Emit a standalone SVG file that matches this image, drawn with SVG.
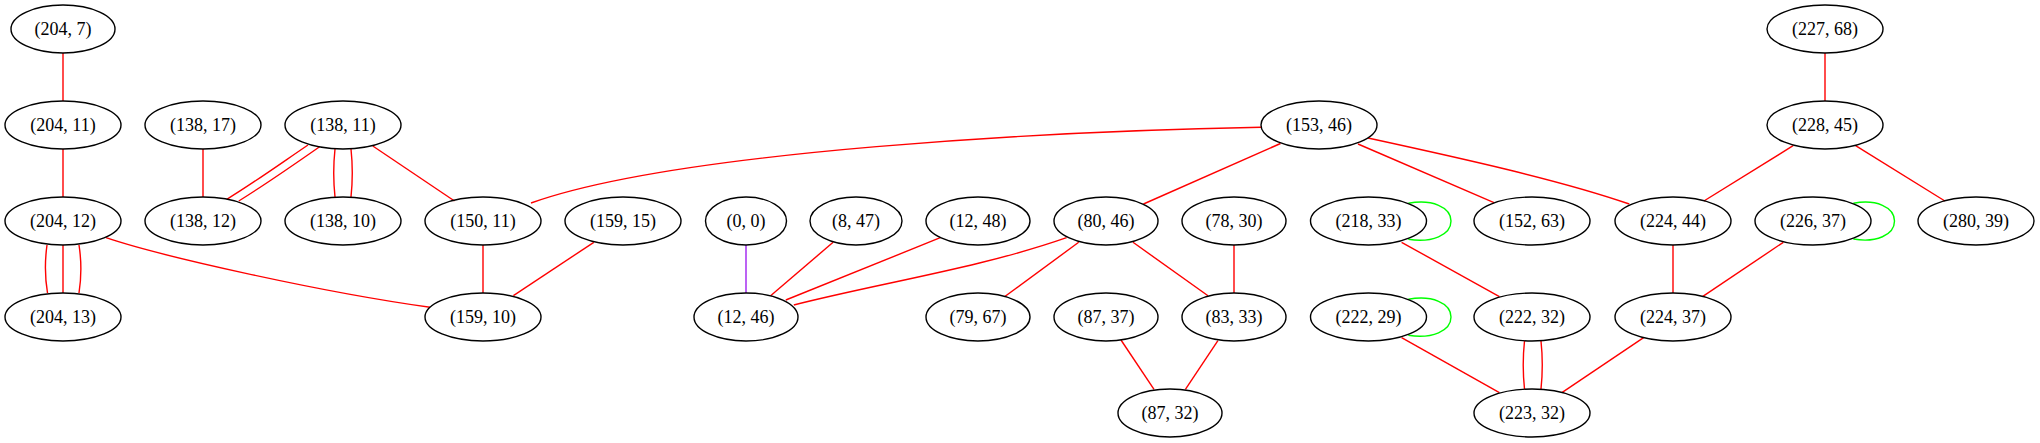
<svg xmlns="http://www.w3.org/2000/svg" width="2040" height="443" viewBox="0 0 2040 443">
<style>
.n ellipse{fill:none;stroke:#000;stroke-width:1.4}
.n text{font-size:18px;text-anchor:middle;fill:#000}
#edges path{fill:none;stroke-width:1.4}
.r{stroke:#ff0000}
.g{stroke:#00ff00}
.p{stroke:#a020f0}
</style>
<rect width="2040" height="443" fill="#fff"/>
<g id="edges">
<path class="r" d="M63,53 L63,101"/>
<path class="r" d="M63,149 L63,197"/>
<path class="r" d="M47,245 C44.8,261 44.8,277 47.5,293"/>
<path class="r" d="M63,245 L63,293"/>
<path class="r" d="M79,245 C81.5,261 81.5,277 79,293"/>
<path class="r" d="M106,237.7 C160,256 320,292 430,307.3"/>
<path class="r" d="M203,149 L203,197"/>
<path class="r" d="M308,145 C280,164 255,182 226.8,199.3"/>
<path class="r" d="M319.6,146.7 C292,166 266,184 238.8,201"/>
<path class="r" d="M335,149 C333.3,165 333.3,181 335,197"/>
<path class="r" d="M351,149 C352.7,165 352.7,181 351,197"/>
<path class="r" d="M372.8,146 L454.5,201"/>
<path class="r" d="M1261,127.3 C1060,131 680,150 531,203"/>
<path class="r" d="M483,245 L483,293"/>
<path class="r" d="M593.8,242.3 L513.4,295.7"/>
<path class="p" d="M746,245 L746,293"/>
<path class="r" d="M833.1,242.3 L770.6,295.7"/>
<path class="r" d="M940.3,237.7 L785.8,300"/>
<path class="r" d="M1066.6,237.7 C980,268 880,283 793.8,305"/>
<path class="r" d="M1078.7,242.3 L1004.5,296.7"/>
<path class="r" d="M1133,242.3 L1208,295.7"/>
<path class="r" d="M1234,245 L1234,293"/>
<path class="r" d="M1121,340 L1154,389.3"/>
<path class="r" d="M1217.9,340.7 L1185.4,389.3"/>
<path class="r" d="M1280.5,143.5 L1143.5,204"/>
<path class="r" d="M1358,144 L1494,202.7"/>
<path class="r" d="M1368,138 C1460,158 1560,180 1629.3,204"/>
<path class="r" d="M1825,53 L1825,101"/>
<path class="r" d="M1793.1,145.7 L1703.9,201"/>
<path class="r" d="M1855.6,145.7 L1944.9,201"/>
<path class="r" d="M1673,245 L1673,293"/>
<path class="r" d="M1783.3,242.3 L1702.5,296.7"/>
<path class="r" d="M1401.6,242.3 L1499.4,296.7"/>
<path class="r" d="M1401.6,337.7 L1499.4,392.7"/>
<path class="r" d="M1524.5,341 C1522.8,357 1522.8,373 1524.5,389"/>
<path class="r" d="M1541,341 C1542.7,357 1542.7,373 1541,389"/>
<path class="r" d="M1643.6,337.7 L1561.9,392.7"/>
<path class="g" d="M1408.3,203.3 C1432,199 1451,207 1451,221 C1451,235 1432,243 1408.3,239.3"/>
<path class="g" d="M1408.3,299.3 C1432,295 1451,303 1451,317 C1451,331 1432,339 1408.3,335.3"/>
<path class="g" d="M1853.4,203.3 C1876,199 1894.5,207 1894.5,221 C1894.5,235 1876,243 1853.4,239"/>
</g>
<g id="nodes" font-family="Liberation Serif, Times New Roman, serif">
<g id="n204_7" class="n"><ellipse cx="63" cy="29" rx="52" ry="24"/><text x="63" y="35">(204, 7)</text></g>
<g id="n227_68" class="n"><ellipse cx="1825" cy="29" rx="58" ry="24"/><text x="1825" y="35">(227, 68)</text></g>
<g id="n204_11" class="n"><ellipse cx="63" cy="125" rx="58" ry="24"/><text x="63" y="131">(204, 11)</text></g>
<g id="n138_17" class="n"><ellipse cx="203" cy="125" rx="58" ry="24"/><text x="203" y="131">(138, 17)</text></g>
<g id="n138_11" class="n"><ellipse cx="343" cy="125" rx="58" ry="24"/><text x="343" y="131">(138, 11)</text></g>
<g id="n153_46" class="n"><ellipse cx="1319" cy="125" rx="58" ry="24"/><text x="1319" y="131">(153, 46)</text></g>
<g id="n228_45" class="n"><ellipse cx="1825" cy="125" rx="58" ry="24"/><text x="1825" y="131">(228, 45)</text></g>
<g id="n204_12" class="n"><ellipse cx="63" cy="221" rx="58" ry="24"/><text x="63" y="227">(204, 12)</text></g>
<g id="n138_12" class="n"><ellipse cx="203" cy="221" rx="58" ry="24"/><text x="203" y="227">(138, 12)</text></g>
<g id="n138_10" class="n"><ellipse cx="343" cy="221" rx="58" ry="24"/><text x="343" y="227">(138, 10)</text></g>
<g id="n150_11" class="n"><ellipse cx="483" cy="221" rx="58" ry="24"/><text x="483" y="227">(150, 11)</text></g>
<g id="n159_15" class="n"><ellipse cx="623" cy="221" rx="58" ry="24"/><text x="623" y="227">(159, 15)</text></g>
<g id="n0_0" class="n"><ellipse cx="746" cy="221" rx="40.5" ry="24"/><text x="746" y="227">(0, 0)</text></g>
<g id="n8_47" class="n"><ellipse cx="856" cy="221" rx="46" ry="24"/><text x="856" y="227">(8, 47)</text></g>
<g id="n12_48" class="n"><ellipse cx="978" cy="221" rx="52" ry="24"/><text x="978" y="227">(12, 48)</text></g>
<g id="n80_46" class="n"><ellipse cx="1106" cy="221" rx="52" ry="24"/><text x="1106" y="227">(80, 46)</text></g>
<g id="n78_30" class="n"><ellipse cx="1234" cy="221" rx="52" ry="24"/><text x="1234" y="227">(78, 30)</text></g>
<g id="n218_33" class="n"><ellipse cx="1368.5" cy="221" rx="58" ry="24"/><text x="1368.5" y="227">(218, 33)</text></g>
<g id="n152_63" class="n"><ellipse cx="1532" cy="221" rx="58" ry="24"/><text x="1532" y="227">(152, 63)</text></g>
<g id="n224_44" class="n"><ellipse cx="1673" cy="221" rx="58" ry="24"/><text x="1673" y="227">(224, 44)</text></g>
<g id="n226_37" class="n"><ellipse cx="1813" cy="221" rx="58" ry="24"/><text x="1813" y="227">(226, 37)</text></g>
<g id="n280_39" class="n"><ellipse cx="1976" cy="221" rx="58" ry="24"/><text x="1976" y="227">(280, 39)</text></g>
<g id="n204_13" class="n"><ellipse cx="63" cy="317" rx="58" ry="24"/><text x="63" y="323">(204, 13)</text></g>
<g id="n159_10" class="n"><ellipse cx="483" cy="317" rx="58" ry="24"/><text x="483" y="323">(159, 10)</text></g>
<g id="n12_46" class="n"><ellipse cx="746" cy="317" rx="52" ry="24"/><text x="746" y="323">(12, 46)</text></g>
<g id="n79_67" class="n"><ellipse cx="978" cy="317" rx="52" ry="24"/><text x="978" y="323">(79, 67)</text></g>
<g id="n87_37" class="n"><ellipse cx="1106" cy="317" rx="52" ry="24"/><text x="1106" y="323">(87, 37)</text></g>
<g id="n83_33" class="n"><ellipse cx="1234" cy="317" rx="52" ry="24"/><text x="1234" y="323">(83, 33)</text></g>
<g id="n222_29" class="n"><ellipse cx="1368.5" cy="317" rx="58" ry="24"/><text x="1368.5" y="323">(222, 29)</text></g>
<g id="n222_32" class="n"><ellipse cx="1532" cy="317" rx="58" ry="24"/><text x="1532" y="323">(222, 32)</text></g>
<g id="n224_37" class="n"><ellipse cx="1673" cy="317" rx="58" ry="24"/><text x="1673" y="323">(224, 37)</text></g>
<g id="n87_32" class="n"><ellipse cx="1170" cy="413" rx="52" ry="24"/><text x="1170" y="419">(87, 32)</text></g>
<g id="n223_32" class="n"><ellipse cx="1532" cy="413" rx="58" ry="24"/><text x="1532" y="419">(223, 32)</text></g>
</g>
</svg>
